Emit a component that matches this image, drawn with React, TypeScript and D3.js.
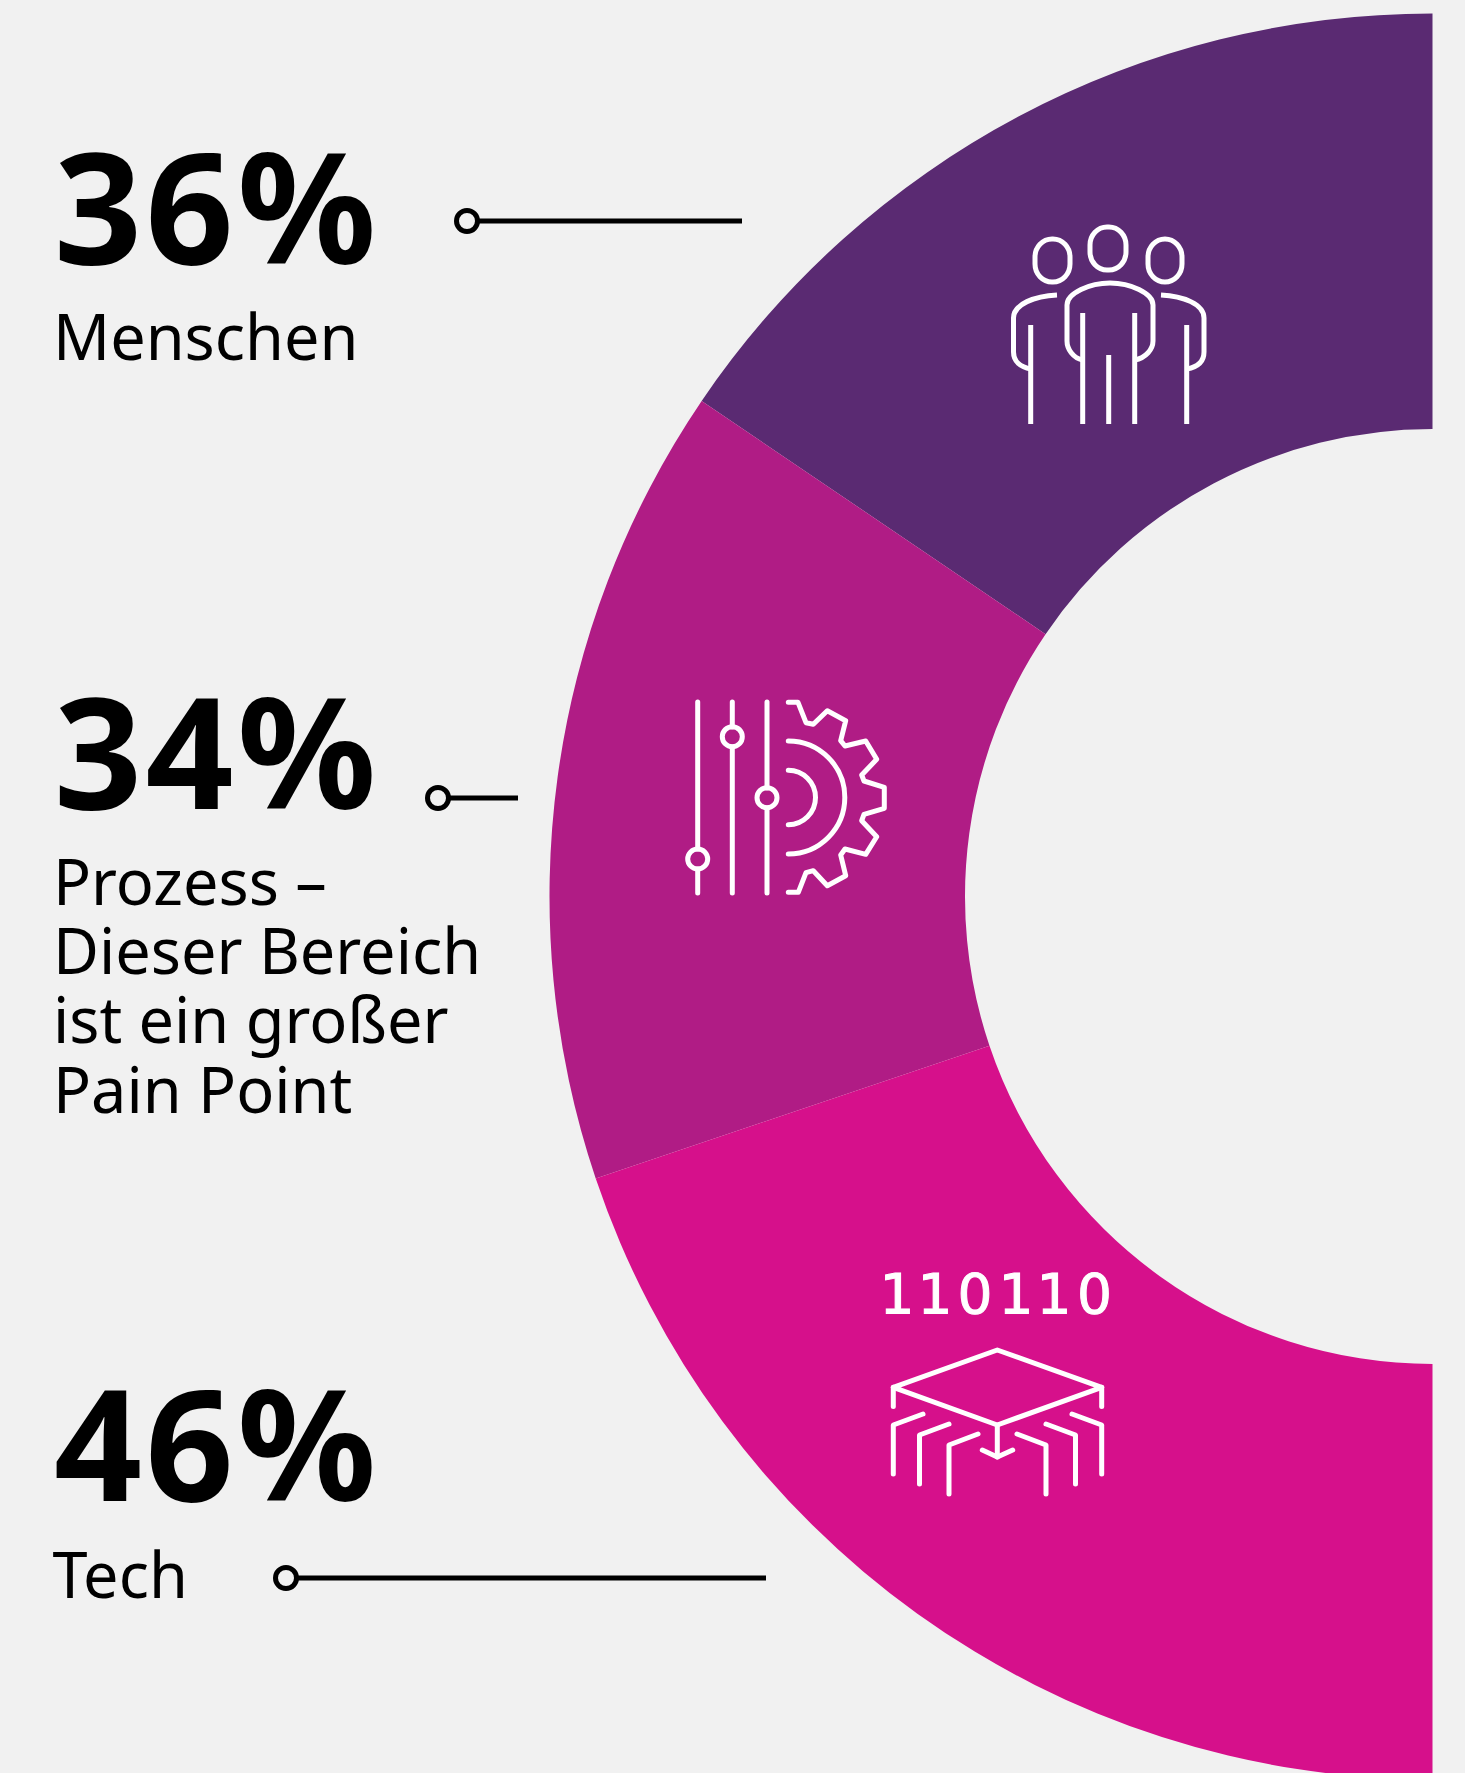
import React from "react";
import * as d3 from "d3";

const categories = ["Menschen", "Prozess", "Tech"];
const values = [36, 34, 46];
const percentLabels = ["36%", "34%", "46%"];
const sliceColors = ["#5a2a72", "#b01c85", "#d6108b"];
const W = 1465, H = 1773;
const cx = 1432.5, cy = 896.5, R0 = 467.5, R1 = 883;
const FONT = "'Noto Sans', sans-serif";

const blocks = [
  { pct: percentLabels[0], pctY: 264, lines: ["Menschen"], lineY: 360, x: 53, px: 54, dot: [467, 221], end: 742 },
  { pct: percentLabels[1], pctY: 808.5, lines: ["Prozess –", "Dieser Bereich", "ist ein großer", "Pain Point"], lineY: 905, x: 53, px: 54, dot: [438, 798], end: 518 },
  { pct: percentLabels[2], pctY: 1501, lines: ["Tech"], lineY: 1597.5, x: 52.5, px: 54, dot: [286, 1578], end: 766 },
];

const headRects = [
  [1035, 239, 35, 43], [1090, 227, 36, 43], [1148, 239, 34, 43],
];
const peopleIcon = [
  "M1057 295 C1035 296 1013.5 304 1013.5 318 V 352 C1013.5 361 1020 367 1031 369",
  "M1030.7 325 V424",
  "M1082.7 313 V424", "M1108.7 355 V424", "M1134.7 313 V424", "M1186.7 325 V424",
  "M1082.7 360 C1073 358 1067 349 1067 341 V 305 C1067 293 1090 283 1110 283 C1130 283 1153 293 1153 305 V341 C1153 349 1146 358 1134.7 360",
  "M1161 295 C1183 296 1204 304 1204 318 V 352 C1204 361 1198 367 1186.7 369",
];

const gearIcon = [
  "M697.7 702 V849", "M697.7 869 V893",
  "M732.3 702 V727", "M732.3 747 V893",
  "M767 702 V788", "M767 808 V893",
  "M788.3 702.3 H798 L806 722.7 L813.3 724.3 L827.3 710.7 L845.7 720.7 L840.7 740.7 L845 746 L865.7 741 L876.7 759.3 L861.7 775 L864 781 L884.3 787.3 V808.3 L864 814.3 L861.7 820.7 L876.7 836.7 L865.7 854.3 L845 849 L840.7 855 L845.7 875.7 L827.3 885.7 L813.3 870.7 L806 872.7 L798.3 892.3 H788.3",
  "M788.3 741 A56.5 56.5 0 0 1 788.3 854",
  "M788.3 770.3 A27.2 27.2 0 0 1 788.3 824.7",
];
const gearDots = [[697.7, 859], [732.3, 736.7], [767, 797.7]];

const techIcon = [
  "M893.3 1387.3 L997.3 1350 L1101.7 1387.3 L997.3 1425 Z",
  "M893.3 1387.3 V1406.5", "M1101.7 1387.3 V1406.5",
  "M923 1414 L893.3 1425 V1474", "M949 1424 L919.5 1435 V1484", "M978 1434 L949 1445 V1494",
  "M997.3 1425 V1457", "M982.3 1450 L997.3 1457 L1012.7 1450",
  "M1017 1434 L1046 1445 V1494", "M1046 1424 L1075.5 1435 V1484", "M1072 1414 L1101.7 1425 V1474",
];
const binaryDigits = "110110".split("");
const binaryX = [897, 935, 975, 1016, 1054, 1094.5];

const pie = d3.pie<number>().sort(null).startAngle(0).endAngle(-Math.PI);
const arc = d3.arc<d3.PieArcDatum<number>>().innerRadius(R0).outerRadius(R1);

export default function App() {
  const slices = pie(values);
  return (
    <svg width={W} height={H} viewBox={`0 0 ${W} ${H}`} style={{ position: "absolute", left: 0, top: 0, display: "block" }}>
      <rect width={W} height={H} fill="#f1f1f1" />
      <g transform={`translate(${cx},${cy})`}>
        {slices.map((s, i) => (
          <path key={categories[i]} d={arc(s) as string} fill={sliceColors[i]} />
        ))}
      </g>
      {blocks.map((b) => (
        <g key={b.pct} fill="#000" fontFamily={FONT}>
          <text x={b.px} y={b.pctY} fontSize={154} fontWeight={700} letterSpacing={3.5}>{b.pct}</text>
          {b.lines.map((l, i) => (
            <text key={l} x={b.x} y={b.lineY + i * 69.2} fontSize={63}>{l}</text>
          ))}
          <line x1={b.dot[0] + 12} x2={b.end} y1={b.dot[1]} y2={b.dot[1]} stroke="#000" strokeWidth={5} />
          <circle cx={b.dot[0]} cy={b.dot[1]} r={10.5} fill="none" stroke="#000" strokeWidth={5} />
        </g>
      ))}
      <g fill="none" stroke="#fff" strokeWidth={5}>
        {headRects.map(([x, y, w, h]) => <rect key={x} x={x} y={y} width={w} height={h} rx={17} ry={18} />)}
        {peopleIcon.map((d) => <path key={d} d={d} />)}
        <g strokeLinecap="round" strokeLinejoin="round">
          {gearIcon.map((d) => <path key={d} d={d} />)}
          {techIcon.map((d) => <path key={d} d={d} />)}
        </g>
        {gearDots.map(([x, y]) => <circle key={x} cx={x} cy={y} r={10} />)}
      </g>
      {binaryDigits.map((c, i) => (
        <text key={i} x={binaryX[i]} y={1313} fill="#fff" stroke="#fff" strokeWidth={1} fontSize={55} textAnchor="middle" fontFamily="'DejaVu Sans', sans-serif" fontWeight={400}>{c}</text>
      ))}
    </svg>
  );
}
